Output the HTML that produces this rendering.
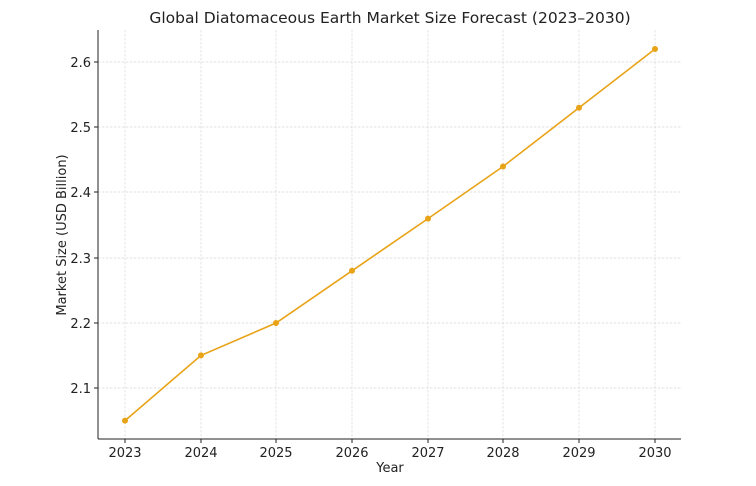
<!DOCTYPE html>
<html><head><meta charset="utf-8"><style>
html,body{margin:0;padding:0;background:#fff;}
svg text{font-family:"DejaVu Sans","Liberation Sans",sans-serif;fill:#222;}
</style></head><body>
<svg width="756" height="481" viewBox="0 0 756 481" xmlns="http://www.w3.org/2000/svg">
<rect width="756" height="481" fill="#fff"/>
<g stroke="#d8d8d8" stroke-width="0.7" stroke-dasharray="2.5,1.5">
<line x1="125" y1="30" x2="125" y2="439"/><line x1="201" y1="30" x2="201" y2="439"/>
<line x1="276" y1="30" x2="276" y2="439"/><line x1="352" y1="30" x2="352" y2="439"/>
<line x1="428" y1="30" x2="428" y2="439"/><line x1="503" y1="30" x2="503" y2="439"/>
<line x1="579" y1="30" x2="579" y2="439"/><line x1="655" y1="30" x2="655" y2="439"/>
<line x1="98" y1="62" x2="681" y2="62"/><line x1="98" y1="127" x2="681" y2="127"/>
<line x1="98" y1="192" x2="681" y2="192"/><line x1="98" y1="258" x2="681" y2="258"/>
<line x1="98" y1="323" x2="681" y2="323"/><line x1="98" y1="388" x2="681" y2="388"/>
</g>
<g stroke="#222" stroke-width="1">
<line x1="98" y1="30" x2="98" y2="439"/><line x1="98" y1="439" x2="681" y2="439"/>
<line x1="125" y1="439" x2="125" y2="443"/><line x1="201" y1="439" x2="201" y2="443"/>
<line x1="276" y1="439" x2="276" y2="443"/><line x1="352" y1="439" x2="352" y2="443"/>
<line x1="428" y1="439" x2="428" y2="443"/><line x1="503" y1="439" x2="503" y2="443"/>
<line x1="579" y1="439" x2="579" y2="443"/><line x1="655" y1="439" x2="655" y2="443"/>
<line x1="94" y1="62" x2="98" y2="62"/><line x1="94" y1="127" x2="98" y2="127"/>
<line x1="94" y1="192" x2="98" y2="192"/><line x1="94" y1="258" x2="98" y2="258"/>
<line x1="94" y1="323" x2="98" y2="323"/><line x1="94" y1="388" x2="98" y2="388"/>
</g>
<g font-size="13" text-anchor="middle">
<text x="125" y="457">2023</text><text x="201" y="457">2024</text><text x="276" y="457">2025</text>
<text x="352" y="457">2026</text><text x="428" y="457">2027</text><text x="503" y="457">2028</text>
<text x="579" y="457">2029</text><text x="655" y="457">2030</text>
</g>
<g font-size="13" text-anchor="end">
<text x="91" y="67">2.6</text><text x="91" y="132">2.5</text><text x="91" y="197">2.4</text>
<text x="91" y="263">2.3</text><text x="91" y="328">2.2</text><text x="91" y="393">2.1</text>
</g>
<text x="390" y="472" font-size="13" text-anchor="middle">Year</text>
<text transform="translate(66,235) rotate(-90)" font-size="13" text-anchor="middle">Market Size (USD Billion)</text>
<text x="390" y="23" font-size="15.5" text-anchor="middle">Global Diatomaceous Earth Market Size Forecast (2023–2030)</text>
<polyline fill="none" stroke="#e8a317" stroke-width="1.6" points="125,420.6 201,355.4 276,323 352,270.8 428,218.6 503,166.5 579,107.8 655,49"/>
<g fill="#e8a317">
<circle cx="125" cy="420.6" r="3"/><circle cx="201" cy="355.4" r="3"/><circle cx="276" cy="323" r="3"/>
<circle cx="352" cy="270.8" r="3"/><circle cx="428" cy="218.6" r="3"/><circle cx="503" cy="166.5" r="3"/>
<circle cx="579" cy="107.8" r="3"/><circle cx="655" cy="49" r="3"/>
</g>
</svg>
</body></html>
